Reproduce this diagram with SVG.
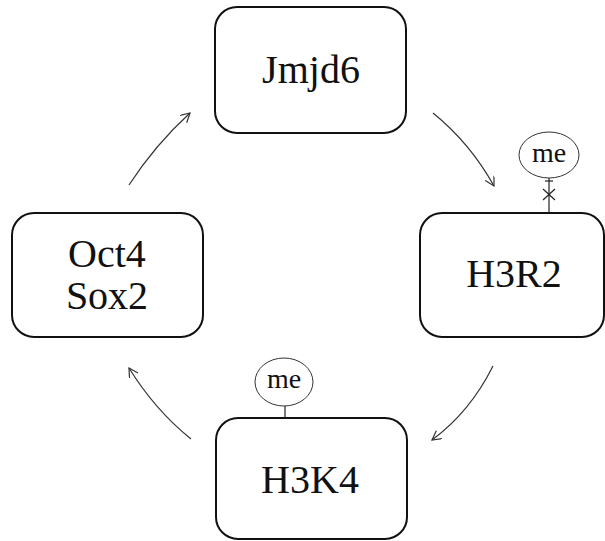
<svg xmlns="http://www.w3.org/2000/svg" width="605" height="541" viewBox="0 0 605 541">
<style>
.box{fill:#fff;stroke:#111;stroke-width:2}
.lbl{font-family:"Liberation Serif","Times New Roman",serif;font-size:40px;fill:#111;text-anchor:middle}
.me{fill:#fff;stroke:#333;stroke-width:1}
.met{font-family:"Liberation Serif","Times New Roman",serif;font-size:28px;fill:#111;text-anchor:middle}
.edge{fill:none;stroke:#333;stroke-width:1.2;marker-end:url(#ah)}
.tick{stroke:#222;stroke-width:1.2;fill:none}
</style>
<defs>
<marker id="ah" markerWidth="14" markerHeight="14" refX="10" refY="5" orient="auto" markerUnits="userSpaceOnUse">
<path d="M1,0 L10,5 L1,10" fill="none" stroke="#333" stroke-width="1.2"/>
</marker>
</defs>
<rect width="605" height="541" fill="#fff"/>
<g id="connectors">
<path class="edge" d="M129,185 Q155,145 190,113"/>
<path class="edge" d="M433,113 Q470,143 494,186"/>
<path class="edge" d="M493,366 Q470,412 432,440"/>
<path class="edge" d="M191,439 Q155,410 129,368"/>
</g>
<g id="jmjd6">
<rect class="box" x="215" y="7" width="191" height="126" rx="22"/>
<text class="lbl" x="311" y="83">Jmjd6</text>
</g>
<g id="h3r2">
<rect class="box" x="420" y="213" width="184" height="124" rx="22"/>
<text class="lbl" x="514" y="287">H3R2</text>
</g>
<g id="h3r2-me">
<line class="tick" x1="549" y1="178" x2="549" y2="213"/>
<line class="tick" x1="545" y1="181" x2="553" y2="181"/>
<line class="tick" x1="543" y1="189" x2="555" y2="200"/>
<line class="tick" x1="555" y1="189" x2="543" y2="200"/>
<ellipse class="me" cx="549" cy="155" rx="30" ry="23"/>
<text class="met" x="549" y="162">me</text>
</g>
<g id="h3k4">
<rect class="box" x="216" y="418" width="191" height="121" rx="22"/>
<text class="lbl" x="310" y="493">H3K4</text>
</g>
<g id="h3k4-me">
<line class="tick" x1="285" y1="405" x2="285" y2="418"/>
<ellipse class="me" cx="284" cy="382" rx="29" ry="24"/>
<text class="met" x="284" y="388">me</text>
</g>
<g id="oct4sox2">
<rect class="box" x="12" y="213" width="191" height="124" rx="22"/>
<text class="lbl" x="107" y="267">Oct4</text>
<text class="lbl" x="107" y="309">Sox2</text>
</g>
</svg>
